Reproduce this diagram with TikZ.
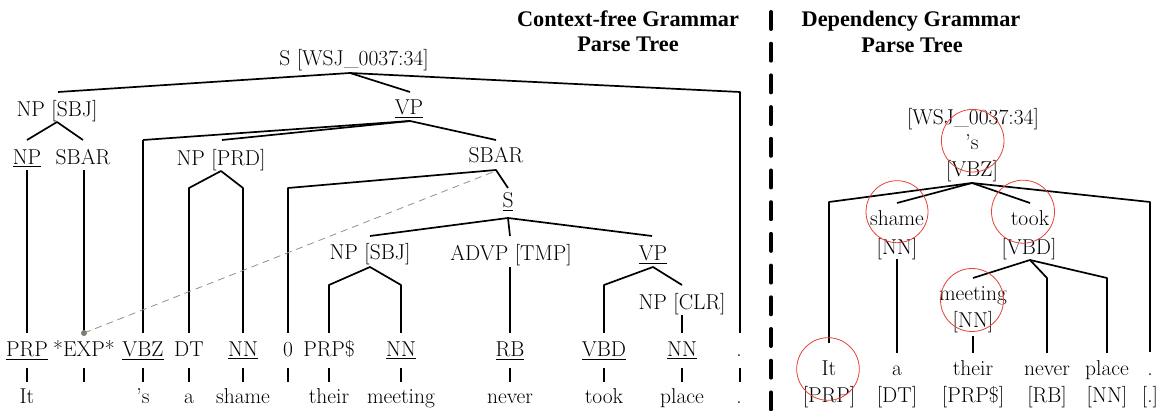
\documentclass[tikz,border=0pt]{standalone}
\usepackage{fontspec}
\newfontfamily\headfont{Liberation Serif}
\begin{document}
\begin{tikzpicture}[x=1pt,y=-1pt,
  lbl/.style={font=\fontsize{21.5}{24}\selectfont, inner sep=0pt, anchor=base},
  head/.style={font=\headfont\bfseries\fontsize{22.3}{25}\selectfont, inner sep=0pt, anchor=base},
  edge/.style={line width=1.7pt, line join=round},
  trace/.style={line width=0.8pt, dash pattern=on 7pt off 5pt, draw=tracecol},
  ring/.style={draw=ringred, line width=0.8pt}]
\definecolor{tracecol}{HTML}{8E9484}
\definecolor{ringred}{HTML}{E8403A}
\useasboundingbox (0,0) rectangle (1165,411);

% headings
\node[head] (h1a) at (628,27) {Context-free Grammar};
\node[head] (h1b) at (628,52) {Parse Tree};
\node[head] (h2a) at (911,27) {Dependency Grammar};
\node[head] (h2b) at (912,53) {Parse Tree};

% separator
\coordinate (sepT) at (771,12);
\coordinate (sepB) at (771,411);
\draw[line width=4pt, line cap=round, dash pattern=on 17pt off 14.7pt] (sepT) -- (sepB);

% ---------------- CFG tree ----------------
\node[lbl] (S0) at (354,66) {S [WSJ\_0037:34]};
\node[lbl] (NPS) at (57,117) {NP [SBJ]};
\node[lbl] (VP1) at (409,115) {\underline{VP}};
\node[lbl] (NP1) at (27,165) {\underline{NP}};
\node[lbl] (SB1) at (83,165) {SBAR};
\node[lbl] (NPP) at (221,166) {NP [PRD]};
\node[lbl] (SB2) at (496,163) {SBAR};
\node[lbl] (S2) at (508,208) {\underline{S}};
\node[lbl] (NPS2) at (370,260) {NP [SBJ]};
\node[lbl] (ADVP) at (511,261) {ADVP [TMP]};
\node[lbl] (VP2) at (653,261) {\underline{VP}};
\node[lbl] (NPC) at (682,310) {NP [CLR]};

% tags
\node[lbl] (t1) at (27,357) {\underline{PRP}};
\node[lbl] (t2) at (84,357) {*EXP*};
\node[lbl] (t3) at (143,357) {\underline{VBZ}};
\node[lbl] (t4) at (189,357) {DT};
\node[lbl] (t5) at (243,357) {\underline{NN}};
\node[lbl] (t6) at (288,357) {0};
\node[lbl] (t7) at (329,357) {PRP\$};
\node[lbl] (t8) at (401,357) {\underline{NN}};
\node[lbl] (t9) at (510,357) {\underline{RB}};
\node[lbl] (t10) at (604,357) {\underline{VBD}};
\node[lbl] (t11) at (682,357) {\underline{NN}};
\node[lbl] (t12) at (739,357) {.};

% words
\node[lbl] (w1) at (27,404) {It};
\node[lbl] (w3) at (143,404) {'s};
\node[lbl] (w4) at (189,404) {a};
\node[lbl] (w5) at (243,404) {shame};
\node[lbl] (w7) at (329,404) {their};
\node[lbl] (w8) at (401,404) {meeting};
\node[lbl] (w9) at (510,404) {never};
\node[lbl] (w10) at (604,404) {took};
\node[lbl] (w11) at (682,404) {place};
\node[lbl] (w12) at (739,404) {.};

% junctions and ends
\coordinate (S0j) at (350,73);
\coordinate (NPSt) at (58,92);
\coordinate (VP1t) at (410,92);
\coordinate (dott) at (740,92);
\coordinate (NPSj) at (57,122);
\coordinate (NP1t) at (27,140);
\coordinate (SB1t) at (83,140);
\coordinate (NP1b) at (27,170);
\coordinate (SB1b) at (84,170);
\coordinate (VP1j) at (410,121);
\coordinate (VBZt) at (143,140);
\coordinate (NPPt) at (222,140);
\coordinate (SB2t) at (496,140);
\coordinate (NPPj) at (221,171);
\coordinate (DTt) at (189,188);
\coordinate (NNt) at (243,188);
\coordinate (SB2j) at (496,170);
\coordinate (ZTt) at (288,188);
\coordinate (S2t) at (508,188);
\coordinate (S2j) at (508,218);
\coordinate (NPS2t) at (370,236);
\coordinate (ADVt) at (510,236);
\coordinate (VP2t) at (652,236);
\coordinate (NPS2j) at (370,267);
\coordinate (PRPSt) at (329,285);
\coordinate (NN2t) at (401,285);
\coordinate (ADVb) at (510,267);
\coordinate (VP2j) at (653,267);
\coordinate (VBDt) at (604,285);
\coordinate (NPCt) at (682,285);
\coordinate (NPCb) at (682,315);
\foreach \i/\x in {1/27,2/84,3/143,4/189,5/243,6/288,7/329,8/401,9/510,10/604,11/682,12/740}{
  \coordinate (c\i) at (\x,333);
  \coordinate (s\i a) at (\x,368);
  \coordinate (s\i b) at (\x,382);
}

\draw[edge] (NPSt) -- (S0j) -- (VP1t);
\draw[edge] (S0j) -- (dott) -- (c12);
\draw[edge] (NP1t) -- (NPSj) -- (SB1t);
\draw[edge] (NP1b) -- (c1);
\draw[edge] (SB1b) -- (c2);
\draw[edge] (VBZt) -- (VP1j) -- (SB2t);
\draw[edge] (VBZt) -- (c3);
\draw[edge] (VP1j) -- (NPPt);
\draw[edge] (c4) -- (DTt) -- (NPPj) -- (NNt) -- (c5);
\draw[edge] (c6) -- (ZTt) -- (SB2j) -- (S2t);
\draw[edge] (NPS2t) -- (S2j) -- (VP2t);
\draw[edge] (S2j) -- (ADVt);
\draw[edge] (c7) -- (PRPSt) -- (NPS2j) -- (NN2t) -- (c8);
\draw[edge] (ADVb) -- (c9);
\draw[edge] (c10) -- (VBDt) -- (VP2j) -- (NPCt);
\draw[edge] (NPCb) -- (c11);
\foreach \i in {1,...,12}{ \draw[edge] (s\i a) -- (s\i b); }

% trace
\coordinate (trEnd) at (493,172);
\draw[trace] (c2) -- (trEnd);
\fill[tracecol!85!black] (c2) circle (3pt);

% ---------------- Dependency tree ----------------
\node[lbl] (droot) at (973,125) {[WSJ\_0037:34]};
\node[lbl] (dS) at (972,150) {'s};
\node[lbl] (dVBZ) at (972,177) {[VBZ]};
\node[lbl] (dshame) at (897,226) {shame};
\node[lbl] (dNN1) at (897,255) {[NN]};
\node[lbl] (dtook) at (1030,226) {took};
\node[lbl] (dVBD) at (1029,255) {[VBD]};
\node[lbl] (dmeet) at (973,301) {meeting};
\node[lbl] (dNN2) at (973,328) {[NN]};
\node[lbl] (dIt) at (829,376) {It};
\node[lbl] (dPRP) at (829,403) {[PRP]};
\node[lbl] (da) at (897,376) {a};
\node[lbl] (dDT) at (897,403) {[DT]};
\node[lbl] (dtheir) at (973,376) {their};
\node[lbl] (dPRPS) at (973,403) {[PRP\$]};
\node[lbl] (dnever) at (1047,376) {never};
\node[lbl] (dRB) at (1047,403) {[RB]};
\node[lbl] (dplace) at (1107,376) {place};
\node[lbl] (dNN3) at (1107,403) {[NN]};
\node[lbl] (ddot) at (1150,376) {.};
\node[lbl] (dDOT) at (1150,403) {[.]};

\coordinate (dj0) at (972,183);
\coordinate (dItT) at (829,202);
\coordinate (dItB) at (829,343);
\coordinate (dshT) at (897,203);
\coordinate (dtkT) at (1030,203);
\coordinate (ddT) at (1150,202);
\coordinate (ddB) at (1150,352);
\coordinate (dshB) at (897,259);
\coordinate (daT) at (897,353);
\coordinate (dj1) at (1030,260);
\coordinate (dmT) at (973,278);
\coordinate (dnT) at (1047,278);
\coordinate (dnB) at (1047,353);
\coordinate (dpT) at (1107,278);
\coordinate (dpB) at (1107,353);
\coordinate (dmB) at (973,336);
\coordinate (dthT) at (973,353);

\draw[edge] (dItB) -- (dItT) -- (dj0) -- (ddT) -- (ddB);
\draw[edge] (dshT) -- (dj0) -- (dtkT);
\draw[edge] (dshB) -- (daT);
\draw[edge] (dmT) -- (dj1) -- (dnT) -- (dnB);
\draw[edge] (dj1) -- (dpT) -- (dpB);
\draw[edge] (dmB) -- (dthT);

% circles
\draw[ring] (972.7,140.7) circle (31.3);
\draw[ring] (897,211.7) circle (31);
\draw[ring] (1023,211.7) circle (31.5);
\draw[ring] (972,300) circle (31.5);
\draw[ring] (828,369) circle (31.3);
\end{tikzpicture}
\end{document}
